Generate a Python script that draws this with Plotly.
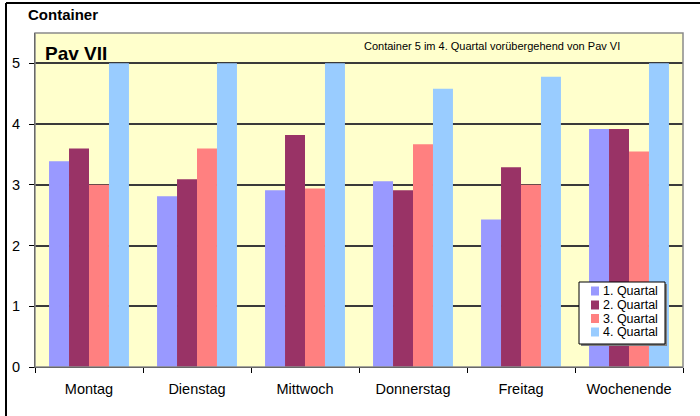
import plotly.graph_objects as go

# Container counts per weekday and quarter
tage = ["Montag", "Dienstag", "Mittwoch", "Donnerstag", "Freitag", "Wochenende"]
q1 = [3.39, 2.81, 2.91, 3.06, 2.43, 3.92]
q2 = [3.60, 3.09, 3.82, 2.91, 3.29, 3.92]
q3 = [3.00, 3.60, 2.94, 3.67, 3.00, 3.55]
q4 = [5.00, 5.00, 5.00, 4.58, 4.78, 5.00]
serien = ["1. Quartal", "2. Quartal", "3. Quartal", "4. Quartal"]
farben = ["#9999FF", "#993366", "#FF8080", "#99CCFF"]

fig = go.Figure()
for name, werte, farbe in zip(serien, [q1, q2, q3, q4], farben):
    fig.add_trace(go.Bar(x=tage, y=werte, name=name,
                         marker=dict(color=farbe, line=dict(width=0))))

W, H = 700, 416
ml, mr, mt, mb = 35, 17, 33, 49
pw, ph = W - ml - mr, H - mt - mb

def px(x):
    return (x - ml) / pw

def py(y):
    return (H - mb - y) / ph

shapes = [
    # outer chart frame (left and top edges)
    dict(type="line", xref="paper", yref="paper",
         x0=px(6), x1=px(6), y0=py(430), y1=py(3),
         line=dict(color="black", width=2), layer="below"),
    dict(type="line", xref="paper", yref="paper",
         x0=px(6), x1=px(720), y0=py(3), y1=py(3),
         line=dict(color="black", width=2), layer="below"),
    # plot area frame
    dict(type="rect", xref="paper", yref="paper",
         x0=0, x1=1, y0=0, y1=1,
         line=dict(color="#8a8a8a", width=1.5), layer="above"),
]

# legend box drawn by hand: shadow, box, swatches
lx0, lx1, ly0, ly1 = 579, 665, 282, 344
shapes.append(dict(type="rect", xref="paper", yref="paper",
                   x0=px(lx0 + 2), x1=px(lx1 + 2), y0=py(ly1 + 2), y1=py(ly0 + 2),
                   fillcolor="#808080", line=dict(width=0), layer="above"))
shapes.append(dict(type="rect", xref="paper", yref="paper",
                   x0=px(lx0), x1=px(lx1), y0=py(ly1), y1=py(ly0),
                   fillcolor="white", line=dict(color="black", width=1), layer="above"))

annotations = [
    dict(text="<b>Container</b>", xref="paper", yref="paper",
         x=px(26), y=py(15), xanchor="left", yanchor="middle",
         showarrow=False, font=dict(size=15)),
    dict(text="<b>Pav VII</b>", xref="paper", yref="paper",
         x=px(43), y=py(53), xanchor="left", yanchor="middle",
         showarrow=False, font=dict(size=19)),
    dict(text="Container 5 im 4. Quartal vorübergehend von Pav VI",
         xref="paper", yref="paper",
         x=px(362), y=py(46), xanchor="left", yanchor="middle",
         showarrow=False, font=dict(size=11)),
]

row_y = [291, 305, 318.5, 332]
for name, farbe, ry in zip(serien, farben, row_y):
    shapes.append(dict(type="rect", xref="paper", yref="paper",
                       x0=px(591), x1=px(599), y0=py(ry + 4.5), y1=py(ry - 4.5),
                       fillcolor=farbe, line=dict(width=0), layer="above"))
    annotations.append(dict(text=name, xref="paper", yref="paper",
                            x=px(601), y=py(ry), xanchor="left", yanchor="middle",
                            showarrow=False, font=dict(size=12.5)))

fig.update_layout(
    width=W, height=H,
    margin=dict(l=ml, r=mr, t=mt, b=mb, pad=0),
    paper_bgcolor="white",
    plot_bgcolor="#FFFFCC",
    barmode="group",
    bargap=0.26,
    bargroupgap=0,
    font=dict(family="Liberation Sans, Arial, sans-serif", color="black", size=13),
    showlegend=False,
    xaxis=dict(
        type="category", showline=True, linecolor="black", linewidth=1,
        ticks="outside", tickson="boundaries", ticklen=5, tickcolor="black",
        showgrid=False, tickfont=dict(size=14.5), ticklabelstandoff=9,
    ),
    yaxis=dict(
        range=[0, 5.5], dtick=1, showline=True, linecolor="black", linewidth=1,
        ticks="outside", ticklen=5, tickcolor="black",
        showgrid=True, gridcolor="#3a3a3a", gridwidth=1.5,
        zeroline=False, tickfont=dict(size=14.5), ticklabelstandoff=6,
    ),
    shapes=shapes,
    annotations=annotations,
)

fig.write_html("out.html")
